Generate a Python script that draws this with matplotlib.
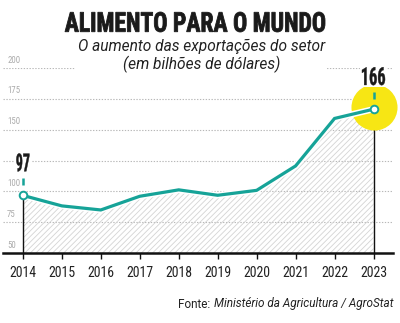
import matplotlib
matplotlib.use("Agg")
import matplotlib.pyplot as plt
import matplotlib.patheffects as pe
from matplotlib import font_manager as fm
from matplotlib.textpath import TextPath
from matplotlib.font_manager import FontProperties
from matplotlib.patches import PathPatch, Rectangle
from matplotlib.transforms import Affine2D, IdentityTransform

years = [2014, 2015, 2016, 2017, 2018, 2019, 2020, 2021, 2022, 2023]
values = [96.7, 88.2, 84.9, 96.0, 101.2, 96.8, 100.8, 120.6, 159.1, 166.6]
grid_values = [75, 100, 125, 150, 175, 200]
ytick_values = [50, 75, 100, 150, 175, 200]
ytick_labels = ["50", "75", "100", "150", "175", "200"]
first_label = "97"
last_label = "166"
title = "ALIMENTO PARA O MUNDO"
subtitle = "O aumento das exportações do setor\n(em bilhões de dólares)"
source_a = "Fonte: "
source_b = "Ministério da Agricultura / AgroStat"

available = {f.name for f in fm.fontManager.ttflist}
def pick(cands):
    for c in cands:
        if c in available:
            return c
    return "DejaVu Sans"

narrow = pick(["Liberation Sans Narrow", "DejaVu Sans Condensed", "Roboto Condensed", "DejaVu Sans"])
regular = pick(["Roboto", "Lato", "DejaVu Sans"])

TEAL = "#16a398"
YELLOW = "#f7e614"
DARK = "#1a1a1a"

W, H = 400, 323
fig = plt.figure(figsize=(4, 3.23), dpi=100)
ax_left, ax_right = 3, 393
ax_bot, ax_top = 253, 68
ax = fig.add_axes([ax_left / W, (H - ax_bot) / H, (ax_right - ax_left) / W, (ax_bot - ax_top) / H])
ax.set_xlim(2013.49, 2023.5)
ax.set_ylim(50, 200)
ax.patch.set_alpha(0)
for s in ["top", "right", "left"]:
    ax.spines[s].set_visible(False)
ax.spines["bottom"].set_linewidth(1.8)
ax.spines["bottom"].set_color("#111111")
ax.spines["bottom"].set_zorder(6)


def shaped_text(text, x0, y_top, width, height, weight="bold", color=DARK, stroke=0.0, z=8):
    """Text drawn as a path in pixel coords (y_top measured from top of figure)."""
    fp = FontProperties(family=narrow, weight=weight)
    tp = TextPath((0, 0), text, size=100, prop=fp)
    bb = tp.get_extents()
    tr = (Affine2D().translate(-bb.x0, -bb.y0)
          .scale(width / bb.width, height / bb.height)
          .translate(x0, H - y_top - height))
    patch = PathPatch(tp, transform=tr + IdentityTransform(), fc=color,
                      ec=color if stroke > 0 else "none", lw=stroke, zorder=z)
    fig.add_artist(patch)
    return patch


# grid lines
for g in grid_values:
    ax.axhline(g, color="#b8b8b8", lw=0.8, ls=(0, (1.2, 1.4)), zorder=1)

# y labels
for v, lab in zip(ytick_values, ytick_labels):
    ax.annotate(lab, xy=(0, v), xycoords=("axes fraction", "data"), xytext=(3, 2.5),
                textcoords="offset points", ha="left", va="bottom", fontsize=6.3,
                color="#ababab", family=narrow, zorder=2)

# hatched area
plt.rcParams["hatch.linewidth"] = 0.6
ax.fill_between(years, values, 50, facecolor="none", edgecolor="#d4d4d4", hatch="//////",
                linewidth=0, zorder=2)

# vertical lines at first and last year
ax.vlines([years[0], years[-1]], 50, [values[0], values[-1]], color="#111111", lw=1.0, zorder=3)

# yellow highlight
ax.scatter([years[-1]], [values[-1] + 1.5], s=1100, color=YELLOW, zorder=3, linewidths=0, clip_on=False)

# main line
ax.plot(years, values, color=TEAL, lw=2.3, solid_joinstyle="miter", zorder=4, clip_on=False,
        path_effects=[pe.Stroke(linewidth=4.5, foreground="white"), pe.Normal()])
ax.scatter([years[0], years[-1]], [values[0], values[-1]], s=30, facecolor="white",
           edgecolor=TEAL, linewidths=1.4, zorder=5, clip_on=False)

# teal ticks and value labels
for x, v, lab, w in [(years[0], values[0], first_label, 13), (years[-1], values[-1], last_label, 23)]:
    px, py = ax.transData.transform((x, v))  # display pixels (origin bottom-left)
    ax.plot([px, px], [py + 10, py + 17], color=TEAL, lw=1.8, transform=IdentityTransform(),
            zorder=5, solid_capstyle="butt", clip_on=False)
    hgt = 18
    top_from_top = (H - py) - 33 - hgt / 2
    fig.add_artist(Rectangle((px - w / 2 - 2, H - top_from_top - hgt - 2), w + 4, hgt + 4,
                             transform=IdentityTransform(), fc="white", ec="none", zorder=7))
    shaped_text(lab, px - w / 2, top_from_top, w, hgt, stroke=0.3)

ax.set_xticks(years)
ax.set_xticklabels([str(y) for y in years], family=narrow, fontsize=10, color="#222222")
ax.tick_params(axis="x", length=4, width=1, color="#111111", pad=5.5)
ax.set_yticks([])

# title
shaped_text(title, 65, 12, 260, 20, stroke=0.6)

fig.text(0.503, 1 - 56 / H, subtitle, ha="center", va="center", fontsize=11.2, style="italic",
         family=regular, fontweight="normal", color="#222222", linespacing=1.1,
         bbox=dict(boxstyle="square,pad=0.15", fc="white", ec="none"), zorder=10)

tb = fig.text(393 / W, 1 - 304 / H, source_b, ha="right", va="center", fontsize=8.5,
              style="italic", family=regular, color="#222222")
ax.annotate(source_a, xy=(0, 0.5), xycoords=tb, ha="right", va="center", fontsize=8.5,
            family=regular, color="#222222", annotation_clip=False)

fig.savefig("out.png", dpi=100)
